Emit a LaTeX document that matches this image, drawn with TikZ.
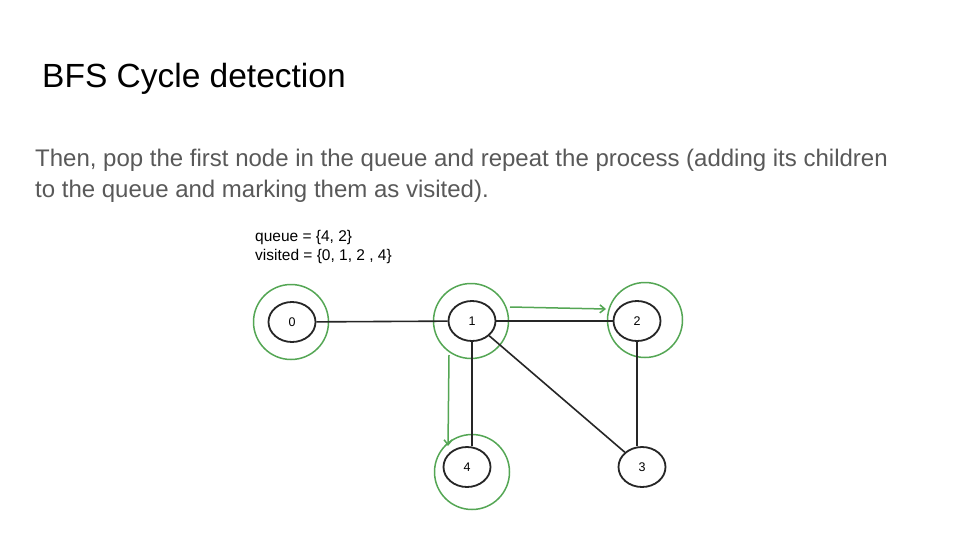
\documentclass[tikz,border=0pt]{standalone}
\usepackage{fontspec}
\setmainfont{Liberation Sans}
\usetikzlibrary{shapes.geometric,arrows.meta}
\definecolor{visitgreen}{RGB}{84,166,84}
\definecolor{bodygray}{RGB}{89,89,89}
\begin{document}
\begin{tikzpicture}[x=1pt,y=-1pt,
    vertex/.style={draw=black!85, line width=1.8pt, ellipse, minimum width=47pt, minimum height=40pt,
      inner sep=0pt, font=\fontsize{12.5}{15}\selectfont},
    ring/.style={draw=visitgreen, line width=1.5pt, circle, minimum size=75pt, inner sep=0pt},
    edge/.style={draw=black!85, line width=1.6pt},
    visit/.style={draw=visitgreen, line width=1.5pt, -{Straight Barb[length=5pt,width=8pt]}}]
    % ==== Canvas ====
    \fill[white] (0,0) rectangle (960,540);
    \useasboundingbox (0,0) rectangle (960,540);

    % Title and explanation
    \node[anchor=base west, inner sep=0pt, font=\fontsize{33.5}{40}\selectfont] (title) at (42,88) {BFS Cycle detection};
    \node[anchor=base west, inner sep=0pt, text=bodygray, font=\fontsize{24}{30}\selectfont] (body1) at (35,167)
      {Then, pop the first node in the queue and repeat the process (adding its children};
    \node[anchor=base west, inner sep=0pt, text=bodygray, font=\fontsize{24}{30}\selectfont] (body2) at (35,197)
      {to the queue and marking them as visited).};

    % State of the search
    \node[anchor=base west, inner sep=0pt, font=\fontsize{15.5}{18}\selectfont] (queue) at (255,241) {queue = \{4, 2\}};
    \node[anchor=base west, inner sep=0pt, font=\fontsize{15.5}{18}\selectfont] (visited) at (255,260) {visited = \{0, 1, 2 , 4\}};

    % ==== Graph ====
    \node[vertex] (n0) at (292,322) {0};
    \node[vertex] (n1) at (472,321) {1};
    \node[vertex] (n2) at (637,321) {2};
    \node[vertex] (n4) at (467,467) {4};
    \node[vertex] (n3) at (642,467) {3};

    % Visited marks
    \node[ring] (ring0) at (291,322) {};
    \node[ring] (ring1) at (471,321) {};
    \node[ring] (ring2) at (645,320) {};
    \node[ring] (ring4) at (472,472) {};

    % Edges
    \draw[edge] (n0) -- (n1);
    \draw[edge] (n1) -- (n2);
    \draw[edge] (n1.south) -- (n4.north -| n1.south);
    \draw[edge] (n2.south) -- (n3.north -| n2.south);
    \draw[edge] (n1) -- (n3);

    % Children being added to the queue
    \coordinate (to2start) at (510,307);
    \coordinate (to2end) at (606,309);
    \coordinate (to4start) at (449,355);
    \coordinate (to4end) at (448,446);
    \draw[visit] (to2start) -- (to2end);
    \draw[visit] (to4start) -- (to4end);
\end{tikzpicture}
\end{document}
